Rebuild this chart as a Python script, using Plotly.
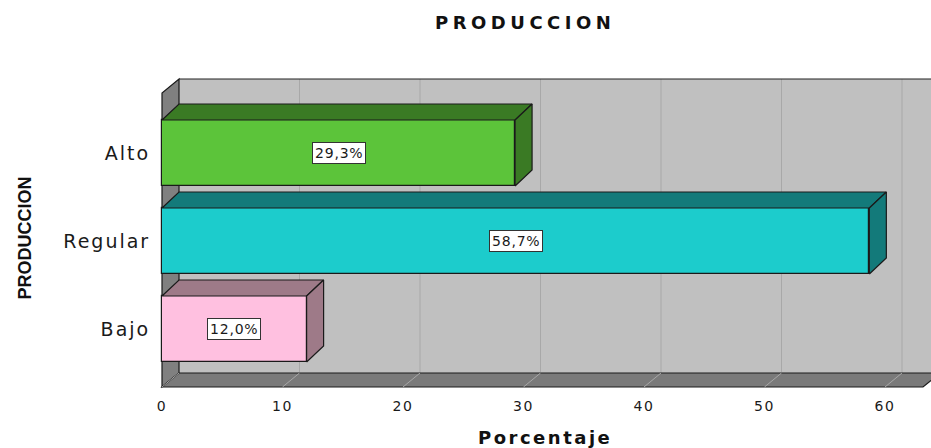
import plotly.graph_objects as go

# ---- data ----
categories = ["Bajo", "Regular", "Alto"]
percentages = [12.0, 58.7, 29.3]
value_labels = ["12,0%", "58,7%", "29,3%"]
x_ticks = [0, 10, 20, 30, 40, 50, 60]
front_colors = ["#ffc0e0", "#1ccccc", "#5cc43a"]
shade_colors = ["#9e7a88", "#137a7a", "#3a7a24"]
title_text = "PRODUCCION"
x_title = "Porcentaje"
y_title = "PRODUCCION"

# ---- geometry (pixels -> data units) ----
W, H = 931, 448
L, R, T, B = 158, 0, 75, 58
plot_w = W - L - R
plot_h = H - T - B
px_x = 12.05          # pixels per percent
px_y = 88.0           # pixels per category step
x0_px = 162           # front-plane zero
bajo_px = 329         # centre of first category
x_lo = -(x0_px - L) / px_x
x_hi = x_lo + plot_w / px_x
y_lo = -(H - B - bajo_px) / px_y
y_hi = (bajo_px - T) / px_y

floor_f = -(387 - bajo_px) / px_y
wall_top_b = (bajo_px - 79) / px_y
dxw, dyw = 17 / px_x, 14 / px_y
dxb, dyb = 17 / px_x, 16 / px_y
half = 33 / px_y
floor_b = floor_f + dyw
wall_top_f = wall_top_b - dyw
floor_right = (923 - x0_px) / px_x


def ls(text, sp):
    return f'<span style="letter-spacing:{sp}px">{text}</span>'


def px2paper_x(px):
    return (px - L) / plot_w


def px2paper_y(py):
    return (H - B - py) / plot_h


shapes = []
# back wall
shapes.append(dict(type="rect", xref="x", yref="y", x0=dxw, x1=x_hi + 5,
                   y0=floor_b, y1=wall_top_b, fillcolor="#c0c0c0",
                   line=dict(width=0), layer="below"))
for k in x_ticks[1:]:
    shapes.append(dict(type="line", xref="x", yref="y", x0=k + dxw, x1=k + dxw,
                       y0=floor_b, y1=wall_top_b,
                       line=dict(color="#a8a8a8", width=1), layer="below"))
shapes.append(dict(type="line", xref="x", yref="y", x0=dxw, x1=x_hi + 5,
                   y0=wall_top_b, y1=wall_top_b,
                   line=dict(color="#222222", width=1.2), layer="below"))
# left wall
shapes.append(dict(type="path", xref="x", yref="y",
                   path=f"M 0 {floor_f} L 0 {wall_top_f} L {dxw} {wall_top_b} L {dxw} {floor_b} Z",
                   fillcolor="#808080", line=dict(color="#1a1a1a", width=1.2), layer="below"))
# floor
shapes.append(dict(type="path", xref="x", yref="y",
                   path=f"M 0 {floor_f} L {floor_right} {floor_f} L {floor_right + dxw} {floor_b} L {dxw} {floor_b} Z",
                   fillcolor="#7a7a7a", line=dict(color="#1a1a1a", width=1.2), layer="below"))
for k in x_ticks:
    shapes.append(dict(type="line", xref="x", yref="y", x0=k, x1=k + dxw,
                       y0=floor_f, y1=floor_b,
                       line=dict(color="#a8a8a8", width=1), layer="below"))

fig = go.Figure()
ypos = list(range(len(categories)))

# top and side faces
for i, v in enumerate(percentages):
    c = ypos[i]
    top_x = [0, v, v + dxb, dxb, 0]
    top_y = [c + half, c + half, c + half + dyb, c + half + dyb, c + half]
    fig.add_trace(go.Scatter(x=top_x, y=top_y, mode="lines", fill="toself",
                             fillcolor=shade_colors[i],
                             line=dict(color="#1a1a1a", width=1.2),
                             hoverinfo="skip", showlegend=False))
    side_x = [v, v + dxb, v + dxb, v, v]
    side_y = [c - half, c - half + dyb, c + half + dyb, c + half, c - half]
    fig.add_trace(go.Scatter(x=side_x, y=side_y, mode="lines", fill="toself",
                             fillcolor=shade_colors[i],
                             line=dict(color="#1a1a1a", width=1.2),
                             hoverinfo="skip", showlegend=False))

# front faces
fig.add_trace(go.Bar(x=percentages, y=ypos, orientation="h", width=2 * half,
                     marker=dict(color=front_colors, line=dict(color="#1a1a1a", width=1.2)),
                     showlegend=False, hoverinfo="skip"))

annotations = []
for i, v in enumerate(percentages):
    annotations.append(dict(x=v / 2, y=ypos[i], xref="x", yref="y",
                            text=ls(value_labels[i], 0.8), showarrow=False,
                            font=dict(family="DejaVu Sans", size=14, color="#1a1a1a"),
                            bgcolor="white", bordercolor="#333333", borderwidth=1,
                            borderpad=2))

annotations.append(dict(x=px2paper_x(525), y=px2paper_y(22.5), xref="paper", yref="paper",
                        text=ls(f"<b>{title_text}</b>", 4.5), showarrow=False,
                        xanchor="center", yanchor="middle",
                        font=dict(family="DejaVu Sans", size=18, color="#111111")))
annotations.append(dict(x=px2paper_x(545), y=px2paper_y(437), xref="paper", yref="paper",
                        text=ls(f"<b>{x_title}</b>", 2.5), showarrow=False,
                        xanchor="center", yanchor="middle",
                        font=dict(family="DejaVu Sans", size=18, color="#111111")))
annotations.append(dict(x=px2paper_x(25), y=px2paper_y(238.5), xref="paper", yref="paper",
                        text=f"<b>{y_title}</b>", showarrow=False, textangle=-90,
                        xanchor="center", yanchor="middle",
                        font=dict(family="Liberation Sans Narrow, Liberation Sans, Arial", size=18,
                                  color="#111111")))

fig.update_layout(
    width=W, height=H,
    margin=dict(l=L, r=R, t=T, b=B, pad=0),
    paper_bgcolor="white", plot_bgcolor="white",
    shapes=shapes, annotations=annotations,
    bargap=0,
    xaxis=dict(range=[x_lo, x_hi], tickvals=x_ticks,
               ticktext=[ls(str(t), 1.5) for t in x_ticks],
               showgrid=False, zeroline=False, showline=False,
               ticks="outside", ticklen=3, tickcolor="rgba(0,0,0,0)",
               tickfont=dict(family="DejaVu Sans", size=14, color="#1a1a1a"),
               fixedrange=True),
    yaxis=dict(range=[y_lo, y_hi], tickvals=ypos,
               ticktext=[ls(c, 2) for c in categories],
               showgrid=False, zeroline=False, showline=False,
               ticks="outside", ticklen=3, tickcolor="rgba(0,0,0,0)",
               tickfont=dict(family="DejaVu Sans", size=19, color="#1a1a1a"),
               fixedrange=True),
)

fig.write_html("out.html")
